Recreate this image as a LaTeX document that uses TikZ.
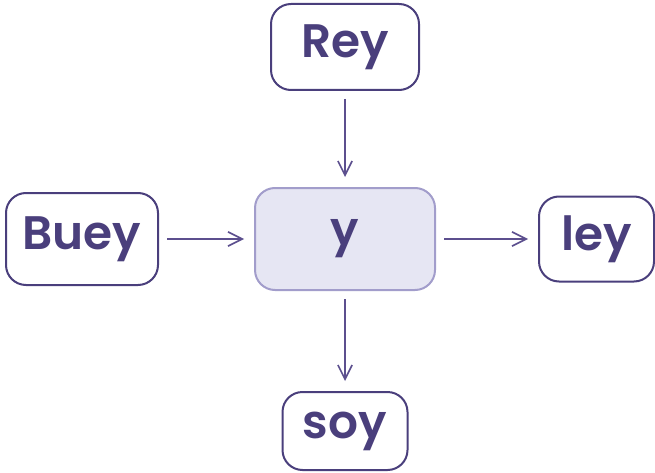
\documentclass[tikz,border=0pt]{standalone}
\usepackage{fontspec}
\setmainfont{Poppins}[BoldFont={* SemiBold}]
\usepackage{tikz}
\usetikzlibrary{positioning,arrows.meta}

\definecolor{ink}{HTML}{4A3F7C}
\definecolor{edge}{HTML}{5C4F8E}
\definecolor{soft}{HTML}{E6E6F3}
\definecolor{softline}{HTML}{A29DCB}

\begin{document}
\begin{tikzpicture}[
    x=1pt, y=-1pt,
    >={Straight Barb[length=5mm, width=5mm, line width=1.6pt]},
    word/.style={draw=ink, line width=2pt, rounded corners=20pt, align=center,
                 font=\fontsize{47}{49}\selectfont\bfseries, text=ink,
                 inner sep=0pt, minimum height=86pt},
    link/.style={->, draw=edge, line width=1.7pt, shorten <=8pt, shorten >=10pt},
  ]
    \useasboundingbox (0,0) rectangle (655,473);
    \node[word, fill=soft, draw=softline, minimum width=180pt, minimum height=102pt] (y) at (345,239) {y};
    \node[word, minimum width=148pt, above=96pt of y] (rey) {Rey};
    \node[word, minimum width=152pt, minimum height=92pt, left=95pt of y] (buey) {Buey};
    \node[word, minimum width=115pt, minimum height=85pt, right=102pt of y] (ley) {ley};
    \node[word, minimum width=125pt, minimum height=78pt, below=100pt of y] (soy) {soy};
    \draw[link] (rey) -- (y);
    \draw[link] (buey) -- (y);
    \draw[link] (y) -- (ley);
    \draw[link] (y) -- (soy);
  \end{tikzpicture}
\end{document}
